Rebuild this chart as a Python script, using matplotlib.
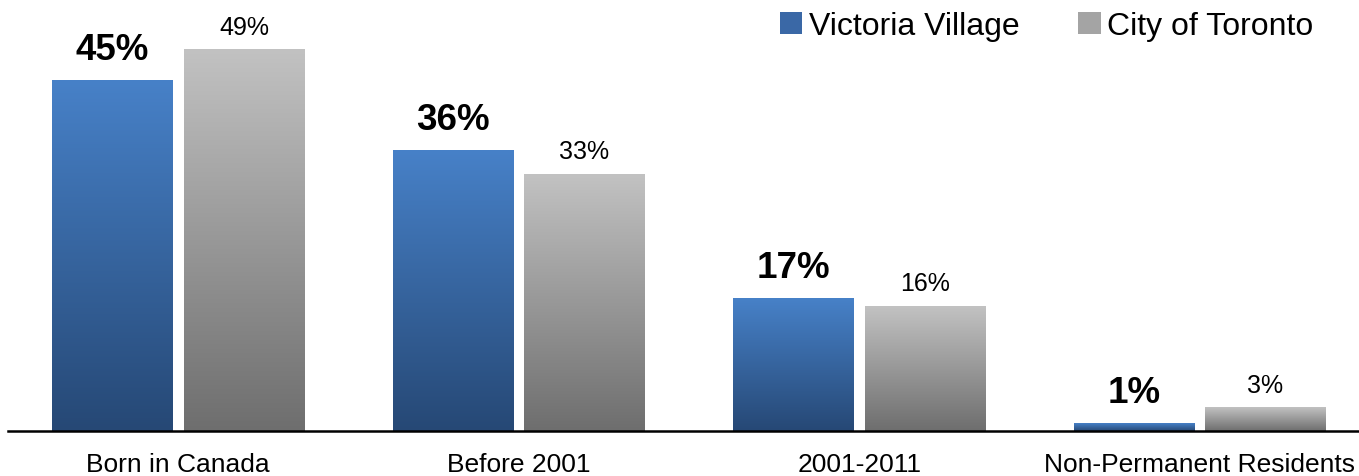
import numpy as np
import matplotlib
matplotlib.use('Agg')
import matplotlib.pyplot as plt
from matplotlib.colors import LinearSegmentedColormap
from matplotlib.patches import Patch

plt.rcParams['font.family'] = ['Liberation Sans', 'DejaVu Sans']

# data
categories = ['Born in Canada', 'Before 2001', '2001-2011', 'Non-Permanent Residents']
victoria = [45, 36, 17, 1]
toronto = [49, 33, 16, 3]
series_names = ['Victoria Village', 'City of Toronto']

blue_cmap = LinearSegmentedColormap.from_list('b', ['#264875', '#4781c8'])
gray_cmap = LinearSegmentedColormap.from_list('g', ['#6e6e6e', '#c2c2c2'])

fig = plt.figure(figsize=(13.59, 4.77), dpi=100)
ax = fig.add_axes([8 / 1359, 45 / 477, 1362 / 1359, 432 / 477])

x = np.arange(len(categories))
w = 0.355
off = 0.193

bars_v = ax.bar(x - off, victoria, w, color='none')
bars_t = ax.bar(x + off, toronto, w, color='none')

# vertical gradient fill for each bar
grad = np.linspace(0, 1, 256).reshape(-1, 1)
for bars, cmap in [(bars_v, blue_cmap), (bars_t, gray_cmap)]:
    for b in bars:
        bx, by = b.get_x(), b.get_y()
        bw, bh = b.get_width(), b.get_height()
        ax.imshow(grad, extent=[bx, bx + bw, by, by + bh], origin='lower',
                  cmap=cmap, aspect='auto', interpolation='bicubic', zorder=2)

# value labels
for b, v in zip(bars_v, victoria):
    ax.annotate(f'{v}%', (b.get_x() + b.get_width() / 2, b.get_height()),
                xytext=(0, 15.5), textcoords='offset points', ha='center',
                va='baseline', fontsize=26.5, fontweight='bold')
for b, v in zip(bars_t, toronto):
    ax.annotate(f'{v}%', (b.get_x() + b.get_width() / 2, b.get_height()),
                xytext=(0, 11.5), textcoords='offset points', ha='center',
                va='baseline', fontsize=18)

ax.set_xlim(-0.5, 3.5)
ax.set_ylim(0, 55.5)
ax.set_xticks(x)
ax.set_xticklabels(categories, fontsize=19)
ax.tick_params(axis='x', length=0, pad=15)
ax.set_yticks([])
for s in ['top', 'right', 'left']:
    ax.spines[s].set_visible(False)
ax.spines['bottom'].set_linewidth(1.8)

handles = [Patch(facecolor='#3a68a6', label=series_names[0]),
           Patch(facecolor='#a4a4a4', label=series_names[1])]
fig.legend(handles=handles, loc='upper right', bbox_to_anchor=(0.9875, 1.035),
           ncol=2, frameon=False, fontsize=23, handlelength=0.7,
           handleheight=0.7, handletextpad=0.2, columnspacing=1.85)

plt.savefig('out.png', dpi=100)
plt.close()
